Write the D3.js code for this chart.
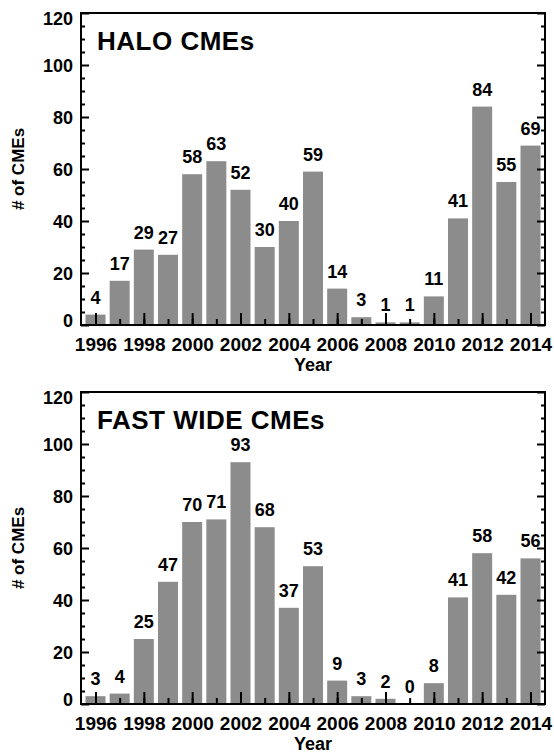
<!DOCTYPE html>
<html>
<head>
<meta charset="utf-8">
<script src="https://cdn.jsdelivr.net/npm/d3@7"></script>
<style>
  body { margin: 0; background: #fff; }
  text { font-family: "Liberation Sans", Arial, Helvetica, sans-serif; font-weight: bold; fill: #000; }
</style>
</head>
<body>
<div id="chart"></div>
<script>
const years = [1996, 1997, 1998, 1999, 2000, 2001, 2002, 2003, 2004, 2005,
  2006, 2007, 2008, 2009, 2010, 2011, 2012, 2013, 2014];
const haloCounts = [4, 17, 29, 27, 58, 63, 52, 30, 40, 59, 14, 3, 1, 1, 11, 41, 84, 55, 69];
const fastWideCounts = [3, 4, 25, 47, 70, 71, 93, 68, 37, 53, 9, 3, 2, 0, 8, 41, 58, 42, 56];
const yTicks = [0, 20, 40, 60, 80, 100, 120];
const yMinorTicks = [5, 10, 15, 25, 30, 35, 45, 50, 55, 65, 70, 75, 85, 90, 95, 105, 110, 115];
const yearLabels = [1996, 1998, 2000, 2002, 2004, 2006, 2008, 2010, 2012, 2014];

const w = 554;
const h = 755;
const left = 81; // plot frame
const right = 545;
const plotH = 312;

const svg = d3.select('#chart').append('svg')
    .attr('width', w)
    .attr('height', h);

const x = d3.scaleLinear().domain([1995.4, 2014.6]).range([left, right]);

function drawPanel(top, counts, title) {
  const y = d3.scaleLinear().domain([0, 120]).range([top + plotH, top]);
  const g = svg.append('g');

  // bars
  g.selectAll('rect.bar')
      .data(counts)
      .enter()
      .append('rect')
      .attr('class', 'bar')
      .attr('x', (d, i) => x(years[i]) - 10)
      .attr('width', 20)
      .attr('y', (d) => y(d))
      .attr('height', (d) => y(0) - y(d))
      .attr('fill', '#8c8c8c');

  // value labels above bars
  g.selectAll('text.val')
      .data(counts)
      .enter()
      .append('text')
      .attr('class', 'val')
      .attr('x', (d, i) => x(years[i]))
      .attr('y', (d) => y(d) - 11)
      .attr('text-anchor', 'middle')
      .style('font-size', '18px')
      .text((d) => d);

  // left axis, ticks pointing in
  const yAxis = g.append('g')
      .attr('transform', 'translate(' + left + ',0)')
      .call(d3.axisLeft(y).tickValues(yTicks).tickSize(-8).tickPadding(8))
      .call((a) => a.select('.domain').remove());
  yAxis.selectAll('line').attr('stroke-width', 2);
  yAxis.selectAll('text')
      .style('font-size', '18px')
      .attr('dy', null)
      .attr('dominant-baseline', 'central')
      // keep end labels inside the frame, like the original
      .attr('y', (d) => d === 120 ? 5 : (d === 0 ? -5 : 0));
  g.append('g')
      .attr('transform', 'translate(' + left + ',0)')
      .call(d3.axisLeft(y).tickValues(yMinorTicks).tickSize(-4).tickFormat(''))
      .call((a) => a.select('.domain').remove())
      .selectAll('line').attr('stroke-width', 2);

  // right axis
  g.append('g')
      .attr('transform', 'translate(' + right + ',0)')
      .call(d3.axisRight(y).tickValues(yTicks).tickSize(-8).tickFormat(''))
      .call((a) => a.select('.domain').remove())
      .selectAll('line').attr('stroke-width', 2);
  g.append('g')
      .attr('transform', 'translate(' + right + ',0)')
      .call(d3.axisRight(y).tickValues(yMinorTicks).tickSize(-4).tickFormat(''))
      .call((a) => a.select('.domain').remove())
      .selectAll('line').attr('stroke-width', 2);

  // bottom axis: minor every year, major + labels every two
  g.append('g')
      .attr('transform', 'translate(0,' + (top + plotH) + ')')
      .call(d3.axisBottom(x).tickValues(years).tickSize(-6).tickFormat(''))
      .call((a) => a.select('.domain').remove())
      .selectAll('line').attr('stroke-width', 2);
  const xAxis = g.append('g')
      .attr('transform', 'translate(0,' + (top + plotH) + ')')
      .call(d3.axisBottom(x).tickValues(yearLabels).tickSize(-12)
          .tickPadding(13).tickFormat(d3.format('d')))
      .call((a) => a.select('.domain').remove());
  xAxis.selectAll('line').attr('stroke-width', 2);
  xAxis.selectAll('text').style('font-size', '19px');

  // frame
  g.append('rect')
      .attr('x', left)
      .attr('y', top)
      .attr('width', right - left)
      .attr('height', plotH)
      .attr('fill', 'none')
      .attr('stroke', '#000')
      .attr('stroke-width', 2);

  // title
  g.append('text')
      .attr('x', 97)
      .attr('y', top + 37)
      .style('font-size', '26px')
      .style('letter-spacing', '0.5px')
      .text(title);

  // axis titles
  g.append('text')
      .attr('x', (left + right) / 2)
      .attr('y', top + plotH + 46)
      .attr('text-anchor', 'middle')
      .style('font-size', '18px')
      .text('Year');
  g.append('text')
      .attr('transform', 'translate(24,' + (top + plotH / 2) + ') rotate(-90)')
      .attr('text-anchor', 'middle')
      .style('font-size', '17px')
      .text('# of CMEs');
}

drawPanel(13, haloCounts, 'HALO CMEs');
drawPanel(392, fastWideCounts, 'FAST WIDE CMEs');
</script>
</body>
</html>
